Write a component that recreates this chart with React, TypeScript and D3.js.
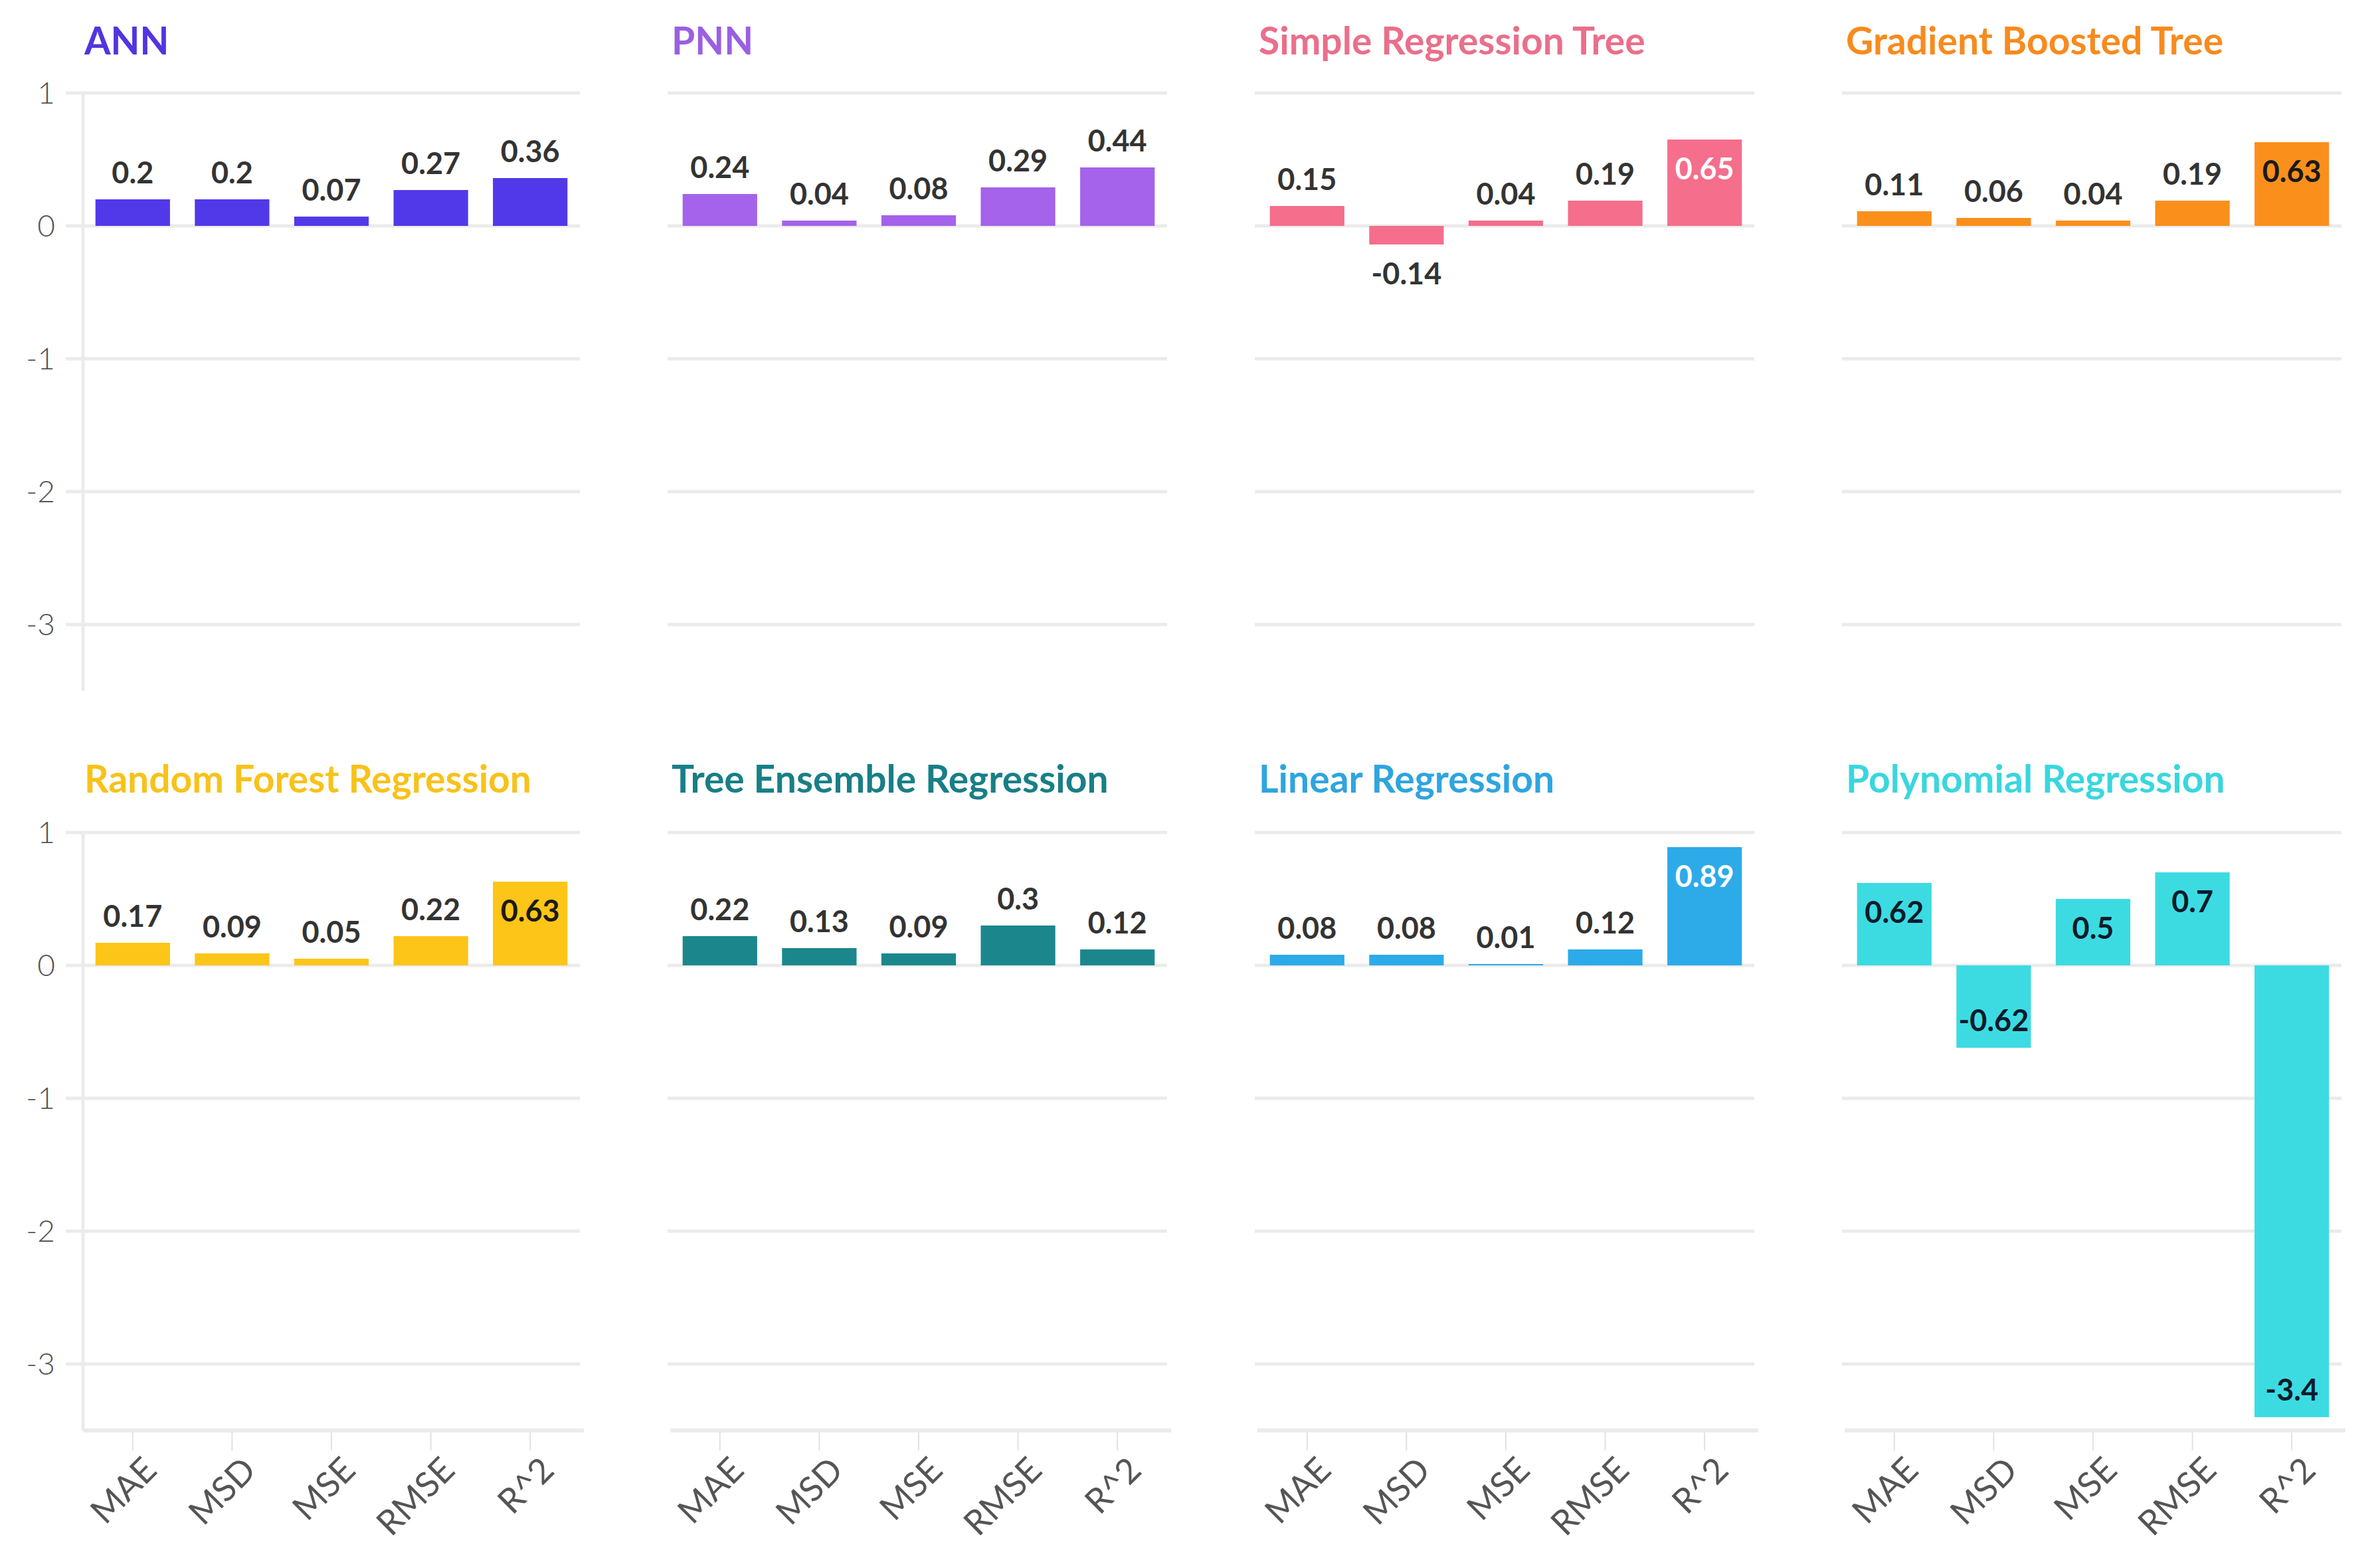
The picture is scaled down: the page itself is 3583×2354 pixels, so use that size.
import { useEffect, useRef } from "react"
import * as d3 from "d3"

// chart data
const models = [
  "ANN",
  "PNN",
  "Simple Regression Tree",
  "Gradient Boosted Tree",
  "Random Forest Regression",
  "Tree Ensemble Regression",
  "Linear Regression",
  "Polynomial Regression",
]
const metrics = ["MAE", "MSD", "MSE", "RMSE", "R^2"]

const annValues = [0.2, 0.2, 0.07, 0.27, 0.36]
const pnnValues = [0.24, 0.04, 0.08, 0.29, 0.44]
const srtValues = [0.15, -0.14, 0.04, 0.19, 0.65]
const gbtValues = [0.11, 0.06, 0.04, 0.19, 0.63]
const rfValues = [0.17, 0.09, 0.05, 0.22, 0.63]
const teValues = [0.22, 0.13, 0.09, 0.3, 0.12]
const lrValues = [0.08, 0.08, 0.01, 0.12, 0.89]
const prValues = [0.62, -0.62, 0.5, 0.7, -3.4]

const yTicks = [1, 0, -1, -2, -3]

// colours per model
const barColors = ["#5139ea", "#a463ea", "#f56e8c", "#fb8f1c", "#fdc517", "#1b878d", "#2cabe8", "#3cdbe2"]
const titleColors = ["#5235e0", "#9b5fe2", "#ea6f8b", "#f78b1e", "#f8c21a", "#187f86", "#2ea5df", "#3ad6de"]
const insideLabelColors = ["#222", "#222", "#ffffff", "#1a1a1a", "#1a1a1a", "#ffffff", "#ffffff", "#0d1b2a"]

export default function App() {
  const svgRef = useRef<SVGSVGElement>(null)

  useEffect(() => {
    if (!svgRef.current) return
    d3.select(svgRef.current).selectAll("*").remove()

    const W = 3583
    const H = 2354
    const svg = d3.select(svgRef.current).attr("width", W).attr("height", H)

    svg.append("rect").attr("width", W).attr("height", H).attr("fill", "#ffffff")

    const allValues = [annValues, pnnValues, srtValues, gbtValues, rfValues, teValues, lrValues, prValues]

    const panelW = 748
    const colStep = 884
    const firstLeft = 125
    const rowTops = [140, 1253]
    const plotH = 900

    const gridColor = "#ebebeb"
    const fontBold = "Lato, 'Noto Sans', sans-serif"
    const fontLight = "Lato, 'Open Sans', sans-serif"

    const x = d3.scaleBand<string>().domain(metrics).range([0, panelW]).paddingInner(0.25).paddingOuter(0.125)
    const y = d3.scaleLinear().domain([-3.5, 1]).range([plotH, 0])

    // plain hyphen for negatives, like the original
    const fmt = (d: number) => String(d)

    models.forEach((model, i) => {
      const row = Math.floor(i / 4)
      const col = i % 4
      const values = allValues[i]
      const g = svg.append("g").attr("transform", `translate(${firstLeft + col * colStep},${rowTops[row]})`)

      // title
      g.append("text")
        .attr("x", 2)
        .attr("y", row === 0 ? 82 - 140 : 1193 - 1253)
        .attr("fill", titleColors[i])
        .style("font-family", fontBold)
        .style("font-weight", 700)
        .style("font-size", "57px")
        .text(model)

      // grid lines
      g.append("g")
        .selectAll("line")
        .data(yTicks)
        .enter()
        .append("line")
        .attr("x1", col === 0 ? -26 : -4)
        .attr("x2", panelW)
        .attr("y1", (d) => y(d))
        .attr("y2", (d) => y(d))
        .attr("stroke", gridColor)
        .attr("stroke-width", 5)

      // y axis on the left column only
      if (col === 0) {
        g.append("line")
          .attr("x1", 0)
          .attr("x2", 0)
          .attr("y1", y(1))
          .attr("y2", y(-3.5))
          .attr("stroke", gridColor)
          .attr("stroke-width", 5)

        g.append("g")
          .selectAll("text")
          .data(yTicks)
          .enter()
          .append("text")
          .attr("x", -42)
          .attr("y", (d) => y(d))
          .attr("dy", "0.35em")
          .attr("text-anchor", "end")
          .attr("fill", "#555")
          .style("font-family", fontLight)
          .style("font-weight", 300)
          .style("font-size", "46px")
          .text((d) => fmt(d))
      }

      // x axis on the bottom row only
      if (row === 1) {
        g.append("line")
          .attr("x1", 0)
          .attr("x2", panelW + 6)
          .attr("y1", y(-3.5))
          .attr("y2", y(-3.5))
          .attr("stroke", gridColor)
          .attr("stroke-width", 6)

        const ticks = g.append("g").selectAll("g").data(metrics).enter().append("g")
          .attr("transform", (d) => `translate(${(x(d) ?? 0) + x.bandwidth() / 2},${y(-3.5)})`)

        ticks.append("line")
          .attr("y1", 3)
          .attr("y2", 30)
          .attr("stroke", "#e2e2e2")
          .attr("stroke-width", 2)

        ticks.append("text")
          .attr("transform", "translate(26,50) rotate(-45)")
          .attr("text-anchor", "end")
          .attr("dy", "0.35em")
          .attr("fill", "#555")
          .style("font-family", fontLight)
          .style("font-weight", 400)
          .style("font-size", "52px")
          .text((d) => d)
      }

      // bars
      g.append("g")
        .selectAll("rect")
        .data(values)
        .enter()
        .append("rect")
        .attr("x", (_, j) => x(metrics[j]) ?? 0)
        .attr("width", x.bandwidth())
        .attr("y", (d) => y(Math.max(0, d)))
        .attr("height", (d) => Math.abs(y(d) - y(0)))
        .attr("fill", barColors[i])

      // value labels
      g.append("g")
        .selectAll("text")
        .data(values)
        .enter()
        .append("text")
        .attr("x", (_, j) => (x(metrics[j]) ?? 0) + x.bandwidth() / 2)
        .attr("y", (d) => {
          const inside = Math.abs(d) >= 0.5
          if (d >= 0) return inside ? y(d) + 60 : y(d) - 24
          return inside ? y(d) - 25 : y(d) + 60
        })
        .attr("text-anchor", "middle")
        .attr("fill", (d) => (Math.abs(d) >= 0.5 ? insideLabelColors[i] : "#333"))
        .style("font-family", fontBold)
        .style("font-weight", 700)
        .style("font-size", "45px")
        .text((d) => fmt(d))
    })
  }, [])

  return (
    <div style={{ position: "absolute", left: 0, top: 0 }}>
      <svg ref={svgRef}></svg>
    </div>
  )
}
